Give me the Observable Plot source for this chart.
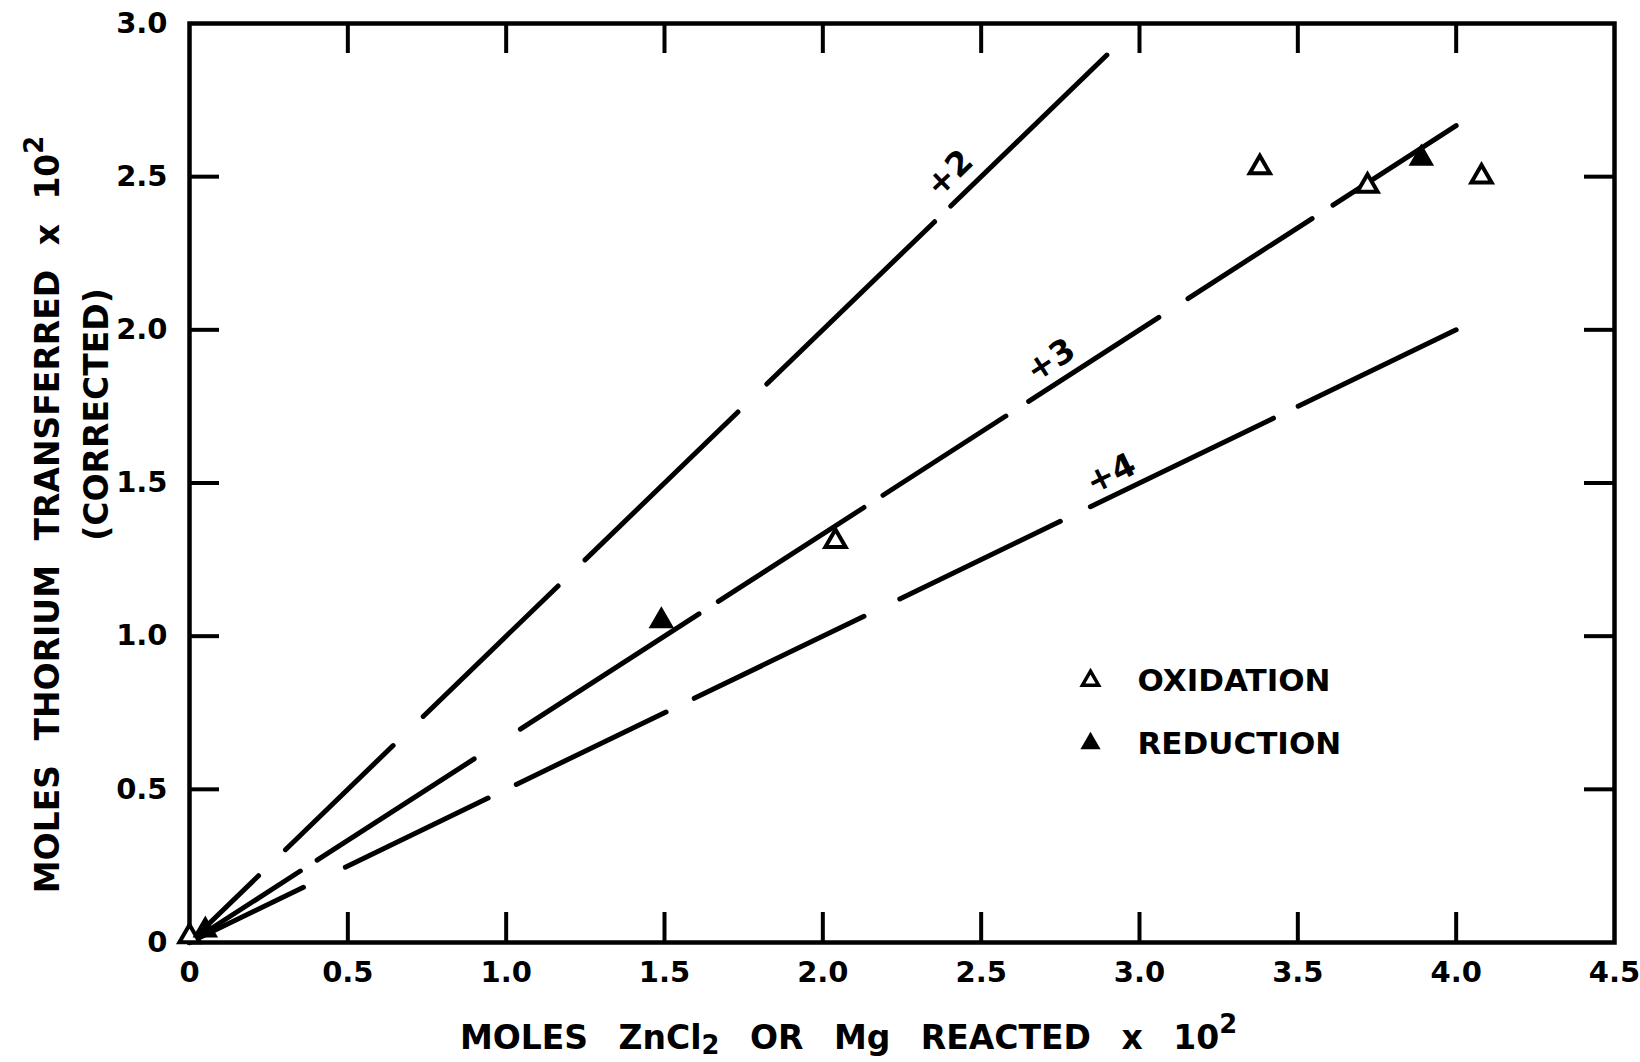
<!DOCTYPE html>
<html>
<head>
<meta charset="utf-8">
<script src="https://cdn.jsdelivr.net/npm/d3@7"></script>
<script src="https://cdn.jsdelivr.net/npm/@observablehq/plot@0.6"></script>
<style>
  html, body { margin: 0; padding: 0; background: #fff; }
  #chart { width: 1640px; height: 1062px; }
</style>
</head>
<body>
<div id="chart"></div>
<script>
// ---- tick values and labels ----
const xTicks = [0, 0.5, 1.0, 1.5, 2.0, 2.5, 3.0, 3.5, 4.0, 4.5];
const xTickLabels = ["0", "0.5", "1.0", "1.5", "2.0", "2.5", "3.0", "3.5", "4.0", "4.5"];
const yTicks = [0, 0.5, 1.0, 1.5, 2.0, 2.5, 3.0];
const yTickLabels = ["0", "0.5", "1.0", "1.5", "2.0", "2.5", "3.0"];

// ---- measured points ----
const oxidationX = [0.00, 2.04, 3.38, 3.72, 4.08];
const oxidationY = [0.02, 1.31, 2.53, 2.47, 2.50];
const reductionX = [0.05, 1.49, 3.89];
const reductionY = [0.04, 1.05, 2.56];

// ---- theoretical lines: Th valence +2, +3, +4 (moles Th per mole reacted) ----
const lineNames = ["+2", "+3", "+4"];
const lineRatios = [1, 2 / 3, 1 / 2];
// hand-drawn dash pieces along each line, as x-ranges
const dashes2 = [[0, 0.218], [0.303, 0.643], [0.738, 1.164], [1.249, 1.732], [1.823, 2.353], [2.404, 2.897]];
const dashes3 = [[0, 0.350], [0.403, 0.899], [1.045, 1.609], [1.670, 2.130], [2.190, 2.578], [2.650, 3.061], [3.153, 3.545], [3.611, 4.00]];
const dashes4 = [[0, 0.360], [0.492, 0.943], [1.032, 1.505], [1.594, 2.130], [2.243, 2.750], [2.845, 3.423], [3.501, 4.00]];
const lineDashes = [dashes2, dashes3, dashes4];
const lineLabelX = [2.40, 2.72, 2.91];
const lineLabelY = [2.51, 1.90, 1.53];
const lineLabelAngle = [-44, -33, -26];

// ---- texts ----
const xTitle = "MOLES ZnCl\u2082 OR Mg REACTED x 10\u00B2";
const yTitle = "MOLES THORIUM TRANSFERRED x 10\u00B2";
const yTitle2 = "(CORRECTED)";
const legendNames = ["OXIDATION", "REDUCTION"];

// ---- build tables ----
const segments = [];
lineDashes.forEach((ds, k) => ds.forEach(([a, b]) => segments.push({x1: a, y1: a * lineRatios[k], x2: b, y2: b * lineRatios[k]})));
const oxidation = oxidationX.map((x, i) => ({x, y: oxidationY[i]}));
const reduction = reductionX.map((x, i) => ({x, y: reductionY[i]}));
const labels = lineNames.map((t, i) => ({t, x: lineLabelX[i], y: lineLabelY[i], a: lineLabelAngle[i]}));
const innerX = xTicks.slice(1, -1);
const innerY = yTicks.slice(1, -1);

const W = 1640, H = 1062, mL = 189, mR = 26, mT = 23, mB = 120;
const iw = W - mL - mR, ih = H - mT - mB;
const T = 30; // tick length
const font = "'DejaVu Sans', sans-serif";

const plot = Plot.plot({
  width: W, height: H,
  marginLeft: mL, marginRight: mR, marginTop: mT, marginBottom: mB,
  x: {domain: [0, 4.5]},
  y: {domain: [0, 3]},
  style: {fontFamily: font, background: "#fff", color: "#000", overflow: "visible"},
  marks: [
    Plot.frame({stroke: "#000", strokeWidth: 4.5}),
    // inward ticks on four sides
    Plot.ruleX(innerX, {x: d => d, insetTop: ih - T, stroke: "#000", strokeWidth: 4}),
    Plot.ruleX(innerX, {x: d => d, insetBottom: ih - T, stroke: "#000", strokeWidth: 4}),
    Plot.ruleY(innerY, {y: d => d, insetRight: iw - T, stroke: "#000", strokeWidth: 4}),
    Plot.ruleY(innerY, {y: d => d, insetLeft: iw - T, stroke: "#000", strokeWidth: 4}),
    Plot.axisX(xTicks, {tickSize: 0, tickPadding: 19, tickFormat: d => xTickLabels[xTicks.indexOf(d)], fontSize: 29, fontWeight: "bold", label: null}),
    Plot.axisY(yTicks, {tickSize: 0, tickPadding: 22, tickFormat: d => yTickLabels[yTicks.indexOf(d)], fontSize: 29, fontWeight: "bold", label: null}),
    // theoretical dashed lines
    Plot.link(segments, {x1: "x1", y1: "y1", x2: "x2", y2: "y2", stroke: "#000", strokeWidth: 5, strokeLinecap: "round"}),
    Plot.text(labels, {x: "x", y: "y", text: "t", rotate: "a", fontSize: 33, fontWeight: "bold", fill: "#000"}),
    // data points
    Plot.dot(oxidation, {x: "x", y: "y", symbol: "triangle", r: 7.5, stroke: "#000", strokeWidth: 4, fill: "#fff"}),
    Plot.dot(reduction, {x: "x", y: "y", symbol: "triangle", r: 8.5, fill: "#000", stroke: "#000", strokeWidth: 1.5}),
    // legend
    Plot.dot([0], {frameAnchor: "top-left", dx: 1090 - mL, dy: 680 - mT, symbol: "triangle", r: 6, stroke: "#000", strokeWidth: 3.5, fill: "#fff"}),
    Plot.dot([0], {frameAnchor: "top-left", dx: 1090 - mL, dy: 743 - mT, symbol: "triangle", r: 7.5, fill: "#000"}),
    Plot.text([legendNames[0]], {frameAnchor: "top-left", dx: 1137 - mL, dy: 681 - mT, text: d => d, textAnchor: "start", lineAnchor: "middle", fontSize: 31, fontWeight: "bold", fill: "#000"}),
    Plot.text([legendNames[1]], {frameAnchor: "top-left", dx: 1137 - mL, dy: 744 - mT, text: d => d, textAnchor: "start", lineAnchor: "middle", fontSize: 31, fontWeight: "bold", fill: "#000"}),
    // axis titles
    Plot.text([xTitle], {frameAnchor: "bottom", dx: 848 - (mL + iw / 2), dy: 96, text: d => d, textAnchor: "middle", lineAnchor: "middle", fontSize: 33, fontWeight: "bold", fill: "#000"}),
    Plot.text([yTitle], {frameAnchor: "left", dx: 48 - mL, dy: 514 - (mT + ih / 2), text: d => d, rotate: -90, textAnchor: "middle", lineAnchor: "middle", fontSize: 33, fontWeight: "bold", fill: "#000"}),
    Plot.text([yTitle2], {frameAnchor: "left", dx: 97 - mL, dy: 414 - (mT + ih / 2), text: d => d, rotate: -90, textAnchor: "middle", lineAnchor: "middle", fontSize: 33, fontWeight: "bold", fill: "#000"})
  ]
});
document.getElementById("chart").appendChild(plot);

// typographic touches: wider word gaps and real sub/superscript placement
function dressTitle(el, wordGap) {
  const s = el.textContent;
  el.textContent = "";
  el.style.wordSpacing = wordGap + "px";
  const sel = d3.select(el);
  let buf = "", shift = 0;
  const flush = () => {
    if (!buf) return;
    const t = sel.append("tspan").text(buf);
    if (shift) { t.attr("dy", (-shift) + "em"); shift = 0; }
    buf = "";
  };
  for (const ch of s) {
    if (ch === "\u2082" || ch === "\u00B2") {
      flush();
      const d = ch === "\u2082" ? 0.15 : -0.5;
      sel.append("tspan").text("2").attr("font-size", "0.78em").attr("dy", (d / 0.78) + "em");
      shift = d;
    } else buf += ch;
  }
  flush();
}
d3.select(plot).selectAll("text").each(function () {
  const s = this.textContent;
  if (s === xTitle) dressTitle(this, 19);
  else if (s === yTitle) dressTitle(this, 13);
});
</script>
</body>
</html>
